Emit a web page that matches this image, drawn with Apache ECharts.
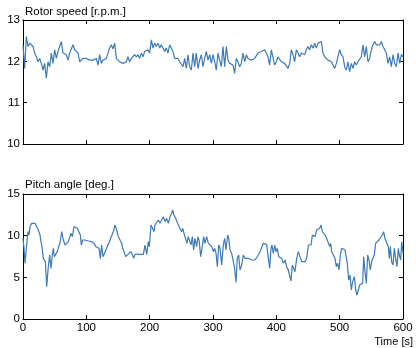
<!DOCTYPE html>
<html>
<head>
<meta charset="utf-8">
<script src="https://cdn.jsdelivr.net/npm/echarts@6/dist/echarts.min.js"></script>
<style>
html,body{margin:0;padding:0;background:#fff;}
#chart{width:416px;height:348px;}
</style>
</head>
<body>
<div id="chart"></div>
<script>
// ---- Data ----
const timeTicks = [0, 100, 200, 300, 400, 500, 600];
const rotorTicks = [10, 11, 12, 13];
const pitchTicks = [0, 5, 10, 15];

// Rotor speed, uniformly sampled over 0..600 s (last sample at 600 s)
const rotorSampleStep = 600 / 228;
const rotorSpeed = [
 12.40, 11.83, 12.60, 12.36, 12.44, 12.40, 12.36, 12.20, 12.11, 11.99, 12.07, 11.95, 11.79, 11.95, 11.59, 11.99, 11.87, 12.20, 11.95, 12.28,
 12.07, 12.24, 12.28, 12.48, 12.20, 12.24, 12.16, 12.03, 12.20, 12.24, 12.40, 12.28, 12.32, 12.20, 11.99, 12.03, 12.07, 12.03, 12.07, 12.03,
 12.03, 11.99, 12.03, 11.99, 12.07, 11.91, 12.16, 11.95, 12.03, 12.03, 12.07, 12.20, 12.32, 12.40, 12.30, 12.44,
 12.07, 12.03, 11.99, 12.03, 11.95, 11.91, 11.99, 12.11, 11.99, 12.07, 12.03, 12.16, 12.11, 12.16, 12.07, 12.20, 12.11, 12.24, 12.20, 12.28,
 12.20, 12.52, 12.32, 12.44, 12.36, 12.44, 12.32, 12.40, 12.44, 12.24, 12.32, 12.20, 12.40, 12.40, 12.24, 12.07, 12.03, 12.07, 11.99, 12.03,
 11.87, 12.07, 11.83, 12.16, 11.87, 11.79, 12.20, 11.87, 12.20, 11.83, 12.03, 12.16, 11.87, 12.07, 12.24, 12.03, 12.16, 11.95,
 12.16, 11.99, 11.79, 12.20, 12.03, 11.87, 12.36, 11.87, 12.36, 12.03, 11.95, 11.99, 11.91, 11.71, 12.07, 11.99, 11.87, 11.95, 12.20, 11.99,
 12.16, 12.07, 12.03, 12.03, 11.99, 12.07, 12.11, 12.20, 12.16, 12.24, 12.20, 12.28, 12.20, 12.11, 11.91, 12.28, 12.24, 11.91, 11.99, 12.11,
 12.07, 11.99, 12.03, 11.95, 11.99, 11.83, 11.95, 12.28, 12.16, 11.99, 12.28, 12.20, 12.11, 12.20, 12.24, 12.16,
 12.28, 12.36, 12.28, 12.40, 12.32, 12.44, 12.32, 12.44, 12.40, 12.48, 12.20, 12.11, 12.07, 12.03, 12.03, 11.99, 11.95, 11.83, 11.95, 11.91,
 12.28, 12.16, 12.11, 11.87, 11.79, 11.99, 11.75, 11.95, 11.83, 11.99, 11.91, 11.99, 12.03, 12.11, 12.40, 12.11, 12.36, 11.99, 12.07, 12.28,
 12.40, 12.48, 12.40, 12.44, 12.40, 12.48, 12.36, 12.28, 12.20, 11.95, 12.11, 11.87, 12.16, 11.95, 11.87, 12.20, 11.95, 12.16, 12.11
];

// Pitch angle, irregular sample times
const pitchTime = [
 0, 1.6, 3.2, 4.8, 6.3, 7.9, 9.5, 11.1, 13.7, 16.3, 19.0, 21.6, 24.2, 26.9, 28.4, 30.0, 32.1, 33.7, 35.3, 37.4,
 40.0, 42.1, 44.2, 46.3, 47.9, 49.5, 51.6, 54.2, 56.3, 58.4, 61.1, 63.7, 66.3, 69.0, 71.6, 74.2, 75.8, 77.9, 80.5, 83.1,
 85.8, 88.4, 90.5, 92.1, 94.2, 97.9, 103.1, 108.4, 112.1, 115.2, 117.9, 120.0, 122.1, 124.2, 126.3, 128.4, 131.0, 133.6, 136.3, 138.4,
 140.5, 142.6,
 145.3, 147.9, 150.6, 153.2, 155.8, 157.4, 159.5, 162.1, 164.8, 167.4, 170.6, 173.2, 174.8, 176.9, 180.5, 184.8, 190.0, 192.6, 195.3, 197.9,
 199.5, 202.1, 204.7, 206.8, 208.4, 211.1, 213.7, 216.3, 218.9, 221.6, 224.2, 226.8, 229.5, 232.1, 234.7, 236.3, 238.4, 241.0, 243.1, 245.2,
 247.9, 250.5, 252.1, 254.2, 256.8, 258.9, 261.0, 263.1, 265.2, 267.3, 269.4, 271.5, 274.2, 276.3, 278.4, 280.5, 283.1, 285.2, 287.3, 290.0,
 292.6,
 295.3, 297.9, 300.6, 302.7, 304.8, 306.9, 309.0, 311.1, 313.7, 316.3, 318.4, 320.5, 323.2, 324.8, 326.9, 329.5, 332.1, 334.2, 336.3, 338.4,
 340.5, 342.6, 345.3, 347.9, 350.5, 353.2, 355.8, 358.4, 361.1, 363.7, 366.3, 368.9, 371.6, 374.2, 376.8, 379.5, 382.1, 384.7, 387.4, 389.5,
 391.6, 393.1, 395.2, 397.4, 399.5, 401.6, 403.7, 405.8, 408.4, 411.0, 413.7, 416.3, 418.9, 421.5, 423.1, 425.2, 426.8, 429.4, 432.1, 434.7,
 437.3, 440.0, 442.6,
 445.3, 447.9, 450.6, 452.7, 454.8, 456.9, 459.0, 461.1, 463.7, 466.3, 468.4, 470.5, 472.7, 474.8, 476.9, 479.5, 482.1, 484.2, 485.8, 487.4,
 490.0, 492.6, 494.7, 496.8, 499.0, 501.1, 503.2, 505.8, 508.4, 510.0, 512.1, 514.2, 516.3, 518.4, 520.5, 523.2, 525.3, 527.4, 529.5, 531.6,
 533.7, 536.3, 537.9, 540.0, 542.1, 544.2, 546.3, 548.4, 550.5, 552.6, 554.7, 556.8, 559.4, 562.1, 564.7, 567.3, 569.4, 571.5, 574.2, 576.8,
 578.4, 580.0, 582.1, 584.2, 586.3, 588.4, 590.5, 592.6, 594.2, 596.3, 597.9, 600
];
const pitchAngle = [
 9.68, 8.48, 6.68, 8.08, 8.28, 10.48, 10.08, 11.08, 11.48, 11.28, 11.48, 11.08, 10.68, 10.08, 9.28, 8.68, 7.28, 7.48, 6.88, 3.88,
 6.28, 7.68, 6.08, 7.68, 8.48, 7.48, 7.68, 8.08, 8.68, 9.08, 10.48, 9.48, 8.88, 8.68, 9.28, 9.88, 10.28, 9.88, 11.08, 10.88,
 10.88, 10.68, 10.08, 8.88, 9.48, 9.48, 9.36, 9.28, 9.08, 8.68, 8.88, 8.48, 7.28, 8.88, 7.48, 7.68, 8.28, 8.28, 9.28, 9.68,
 9.48, 10.48,
 11.28, 10.68, 9.88, 9.68, 9.08, 8.48, 8.08, 7.48, 7.68, 7.88, 8.08, 7.68, 7.28, 7.76, 7.80, 7.76, 7.76, 8.88, 7.76, 9.28,
 8.68, 11.28, 10.88, 10.48, 11.28, 11.08, 11.88, 11.48, 11.88, 12.28, 11.68, 12.08, 11.48, 12.28, 12.68, 13.08, 12.48, 12.08, 11.88, 11.28,
 11.08, 10.48, 10.88, 10.28, 10.48, 9.08, 9.88, 9.68, 8.88, 9.88, 8.28, 9.68, 8.68, 9.88, 9.28, 7.48, 8.68, 9.88, 9.08, 9.88,
 9.08,
 9.28, 8.68, 8.08, 8.48, 7.88, 6.28, 8.88, 8.48, 6.48, 8.88, 9.68, 8.28, 10.08, 9.68, 8.28, 7.88, 7.68, 6.08, 4.40, 7.28,
 7.68, 5.88, 6.48, 7.68, 7.28, 7.48, 7.28, 7.08, 7.08, 6.88, 7.08, 7.08, 7.68, 8.08, 8.28, 9.08, 9.08, 8.96, 8.96, 6.08,
 8.48, 8.88, 7.88, 8.88, 8.08, 8.48, 7.48, 7.68, 7.28, 6.68, 7.08, 6.28, 5.88, 5.68, 4.56, 6.48, 6.68, 5.68, 7.28, 8.08,
 7.88, 6.88, 6.88,
 6.88, 7.28, 8.88, 8.68, 8.88, 10.08, 10.28, 9.88, 10.68, 10.48, 10.88, 11.28, 10.48, 10.28, 10.08, 9.68, 9.48, 8.68, 9.08, 8.08,
 7.88, 7.28, 6.28, 6.68, 5.88, 7.68, 8.48, 8.48, 8.28, 8.48, 6.68, 4.68, 5.28, 3.48, 4.48, 5.08, 3.48, 2.88, 3.48, 4.08,
 4.28, 4.28, 7.48, 5.68, 4.28, 7.68, 7.08, 5.88, 6.88, 6.88, 7.68, 9.08, 9.08, 9.48, 9.68, 10.08, 10.48, 9.68, 9.68, 8.68,
 7.28, 8.68, 6.88, 6.48, 8.48, 7.28, 6.28, 8.48, 7.68, 7.08, 9.28, 7.88
];

const titles = ['Rotor speed [r.p.m.]', 'Pitch angle [deg.]'];
const xAxisTitle = 'Time [s]';

// ---- Chart ----
const FONT = '"Liberation Sans", Arial, sans-serif';
const LINE_COLOR = '#3c7ab8';

const rotorData = rotorSpeed.map((v, i) => [Math.min(600, i * rotorSampleStep), v]);
const pitchData = pitchTime.map((t, i) => [t, pitchAngle[i]]);

function xAx(grid, pos, labels) {
  return {
    type: 'value', gridIndex: grid, position: pos,
    min: timeTicks[0], max: timeTicks[timeTicks.length - 1],
    interval: timeTicks[1] - timeTicks[0],
    axisLine: { show: true, onZero: false, lineStyle: { color: '#000', width: 1 } },
    axisTick: { show: true, inside: true, length: 4, lineStyle: { color: '#000' } },
    axisLabel: { show: labels, color: '#000', fontSize: 11.5, fontFamily: FONT, margin: 3 },
    splitLine: { show: false }
  };
}
function yAx(grid, pos, ticks, labels) {
  return {
    type: 'value', gridIndex: grid, position: pos,
    min: ticks[0], max: ticks[ticks.length - 1], interval: ticks[1] - ticks[0],
    axisLine: { show: true, onZero: false, lineStyle: { color: '#000', width: 1 } },
    axisTick: { show: true, inside: true, length: 4, lineStyle: { color: '#000' } },
    axisLabel: { show: labels, color: '#000', fontSize: 11.5, fontFamily: FONT, margin: 3 },
    splitLine: { show: false }
  };
}

const chart = echarts.init(document.getElementById('chart'), null, { renderer: 'canvas' });
chart.setOption({
  animation: false,
  backgroundColor: '#fff',
  grid: [
    { left: 23, top: 20, width: 380, height: 124 },
    { left: 23, top: 194, width: 380, height: 125 }
  ],
  xAxis: [xAx(0, 'bottom', false), xAx(0, 'top', false), xAx(1, 'bottom', true), xAx(1, 'top', false)],
  yAxis: [yAx(0, 'left', rotorTicks, true), yAx(0, 'right', rotorTicks, false),
          yAx(1, 'left', pitchTicks, true), yAx(1, 'right', pitchTicks, false)],
  series: [
    { type: 'line', xAxisIndex: 0, yAxisIndex: 0, data: rotorData, showSymbol: false,
      lineStyle: { color: LINE_COLOR, width: 1.2 }, itemStyle: { color: LINE_COLOR } },
    { type: 'line', xAxisIndex: 2, yAxisIndex: 2, data: pitchData, showSymbol: false,
      lineStyle: { color: LINE_COLOR, width: 1.2 }, itemStyle: { color: LINE_COLOR } }
  ],
  graphic: [
    { type: 'text', left: 25, top: 6, style: { text: titles[0], fill: '#000', font: '11.5px ' + FONT } },
    { type: 'text', left: 25, top: 179, style: { text: titles[1], fill: '#000', font: '11.5px ' + FONT } },
    { type: 'text', right: 3, top: 336, style: { text: xAxisTitle, fill: '#000', font: '11px ' + FONT } }
  ]
});
</script>
</body>
</html>
